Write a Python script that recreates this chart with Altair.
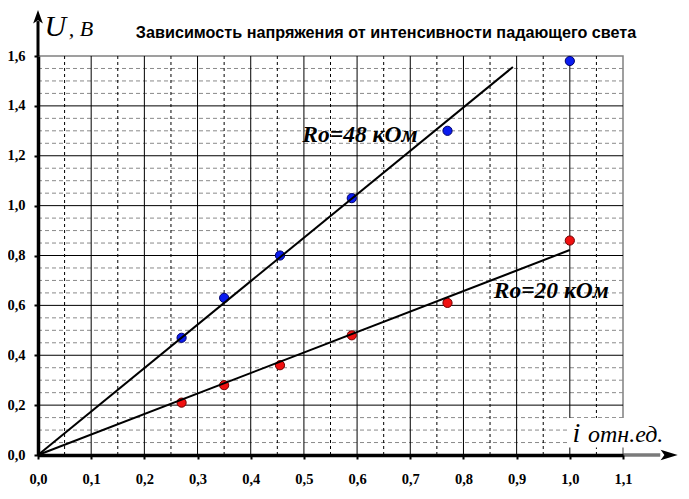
import altair as alt
import pandas as pd

# ---- data ----
intensity = [0.27, 0.35, 0.455, 0.59, 0.77, 1.0]
u_48k = [0.47, 0.63, 0.80, 1.03, 1.30, 1.58]
u_20k = [0.21, 0.28, 0.36, 0.48, 0.61, 0.86]

fit_48_x = [0.0, 0.893]
fit_48_y = [0.0, 1.556]
fit_20_x = [0.0, 1.0]
fit_20_y = [0.0, 0.822]

x_ticks = [0.0, 0.1, 0.2, 0.3, 0.4, 0.5, 0.6, 0.7, 0.8, 0.9, 1.0, 1.1]
y_ticks = [0.0, 0.2, 0.4, 0.6, 0.8, 1.0, 1.2, 1.4, 1.6]
x_grid_major = [0.1, 0.2, 0.3, 0.4, 0.5, 0.6, 0.7, 0.8, 0.9, 1.0]
x_grid_minor = [0.05, 0.15, 0.25, 0.35, 0.45, 0.55, 0.65, 0.75, 0.85, 0.95, 1.05]
y_grid_major = [0.2, 0.4, 0.6, 0.8, 1.0, 1.2, 1.4]
y_grid_minor = [0.05, 0.1, 0.15, 0.25, 0.3, 0.35, 0.45, 0.5, 0.55, 0.65, 0.7, 0.75,
                0.85, 0.9, 0.95, 1.05, 1.1, 1.15, 1.25, 1.3, 1.35, 1.45, 1.5, 1.55]

title_text = "Зависимость напряжения от интенсивности падающего света"
label_48 = "Ro=48 кОм"
label_20 = "Ro=20 кОм"

SERIF = "Liberation Serif"
SANS = "Liberation Sans"

xs = alt.Scale(domain=[0, 1.1], nice=False, zero=False)
ys = alt.Scale(domain=[0, 1.6], nice=False, zero=False)

lab_expr = "replace(format(datum.value, '.1f'), '.', ',')"

x_axis = alt.Axis(values=x_ticks, labelExpr=lab_expr, title=None, grid=False,
                  labelFont=SERIF, labelFontWeight="bold", labelFontSize=14.5,
                  labelColor="black", labelPadding=13, tickSize=4, tickWidth=2,
                  tickColor="black", domainColor="black", domainWidth=3.5,
                  zindex=1, labelFlush=False)
y_axis = alt.Axis(values=y_ticks, labelExpr=lab_expr, title=None, grid=False,
                  labelFont=SERIF, labelFontWeight="bold", labelFontSize=14.5,
                  labelColor="black", labelPadding=9, tickSize=4, tickWidth=2,
                  tickColor="black", domainColor="black", domainWidth=3.5,
                  zindex=1, labelFlush=False)

# ---- grid ----
g_xmaj = alt.Chart(pd.DataFrame({"x": x_grid_major})).mark_rule(
    color="black", strokeWidth=1).encode(x=alt.X("x:Q", scale=xs, axis=x_axis))
g_xmin = alt.Chart(pd.DataFrame({"x": x_grid_minor})).mark_rule(
    color="black", strokeWidth=1, strokeDash=[3, 3]).encode(x=alt.X("x:Q", scale=xs))
g_ymaj = alt.Chart(pd.DataFrame({"y": y_grid_major})).mark_rule(
    color="black", strokeWidth=1).encode(y=alt.Y("y:Q", scale=ys, axis=y_axis))
g_ymin = alt.Chart(pd.DataFrame({"y": y_grid_minor})).mark_rule(
    color="#8a8a8a", strokeWidth=1, strokeDash=[4, 3]).encode(y=alt.Y("y:Q", scale=ys))

# white box behind the x-axis caption
box = alt.Chart(pd.DataFrame({"x": [0.995], "x2": [1.19], "y": [0.03], "y2": [0.148]})).mark_rect(
    fill="white").encode(x=alt.X("x:Q", scale=xs), x2="x2", y=alt.Y("y:Q", scale=ys), y2="y2")

# ---- axis extensions with arrows ----
x_ext = alt.Chart(pd.DataFrame({"x": [1.1], "x2": [1.17], "y": [0.0]})).mark_rule(
    color="#7a7a7a", strokeWidth=3.5).encode(x=alt.X("x:Q", scale=xs), x2="x2",
                                            y=alt.Y("y:Q", scale=ys))
y_ext = alt.Chart(pd.DataFrame({"x": [0.0], "y": [1.6], "y2": [1.74]})).mark_rule(
    color="black", strokeWidth=3).encode(x=alt.X("x:Q", scale=xs),
                                         y=alt.Y("y:Q", scale=ys), y2="y2")
x_arrow = alt.Chart(pd.DataFrame({"x": [1.185], "y": [0.0]})).mark_point(
    shape="M1,0L-0.8,0.55L-0.4,0L-0.8,-0.55Z", filled=True, color="black",
    opacity=1, size=361).encode(x=alt.X("x:Q", scale=xs), y=alt.Y("y:Q", scale=ys))
y_arrow = alt.Chart(pd.DataFrame({"x": [0.0], "y": [1.754]})).mark_point(
    shape="M0,-1L0.65,0.8L0,0.35L-0.65,0.8Z", filled=True, color="black",
    opacity=1, size=225).encode(x=alt.X("x:Q", scale=xs), y=alt.Y("y:Q", scale=ys))

# ---- data points ----
pts = pd.DataFrame({"i": intensity, "u48": u_48k, "u20": u_20k})
p48 = alt.Chart(pts).mark_circle(size=85, color="#0a1cf0", stroke="#00006a",
                                 strokeWidth=1, opacity=1).encode(
    x=alt.X("i:Q", scale=xs), y=alt.Y("u48:Q", scale=ys))
p20 = alt.Chart(pts).mark_circle(size=85, color="#f01010", stroke="#700000",
                                 strokeWidth=1, opacity=1).encode(
    x=alt.X("i:Q", scale=xs), y=alt.Y("u20:Q", scale=ys))

# ---- fitted lines ----
fits = pd.DataFrame({
    "x": fit_48_x + fit_20_x,
    "y": fit_48_y + fit_20_y,
    "s": ["48", "48", "20", "20"],
})
lines = alt.Chart(fits).mark_line(color="black", strokeWidth=2).encode(
    x=alt.X("x:Q", scale=xs), y=alt.Y("y:Q", scale=ys), detail="s:N")


def txt(text, x, y, font, size, weight="normal", style="normal"):
    return alt.Chart(pd.DataFrame({"x": [x], "y": [y], "t": [text]})).mark_text(
        align="left", baseline="alphabetic", font=font, fontSize=size,
        fontWeight=weight, fontStyle=style, color="black").encode(
        x=alt.X("x:Q", scale=xs), y=alt.Y("y:Q", scale=ys), text="t:N")


t_title = txt(title_text, 0.184, 1.673, SANS, 16.2, weight="bold")
t_48 = txt(label_48, 0.497, 1.255, SERIF, 23.5, weight="bold", style="italic")
t_20 = txt(label_20, 0.857, 0.63, SERIF, 23.5, weight="bold", style="italic")
t_u = txt("U", 0.012, 1.682, SERIF, 30, style="italic")
t_b = txt(", B", 0.058, 1.682, SERIF, 22, style="italic")
t_i = txt("i", 1.005, 0.052, SERIF, 28, style="italic")
t_unit = txt("отн.ед.", 1.034, 0.052, SERIF, 24, style="italic")

chart = alt.layer(
    g_ymin, g_xmin, g_xmaj, g_ymaj, box, p48, p20, lines,
    x_ext, y_ext, x_arrow, y_arrow,
    t_title, t_48, t_20, t_u, t_b, t_i, t_unit,
).properties(
    width=585, height=399,
    padding={"left": 30, "top": 48, "right": 58, "bottom": 40},
    autosize=alt.AutoSizeParams(type="none"),
    background="white",
).configure_view(stroke="#808080", strokeWidth=1.5)

chart.save("out.html", embed_options={"renderer": "svg", "actions": False})
